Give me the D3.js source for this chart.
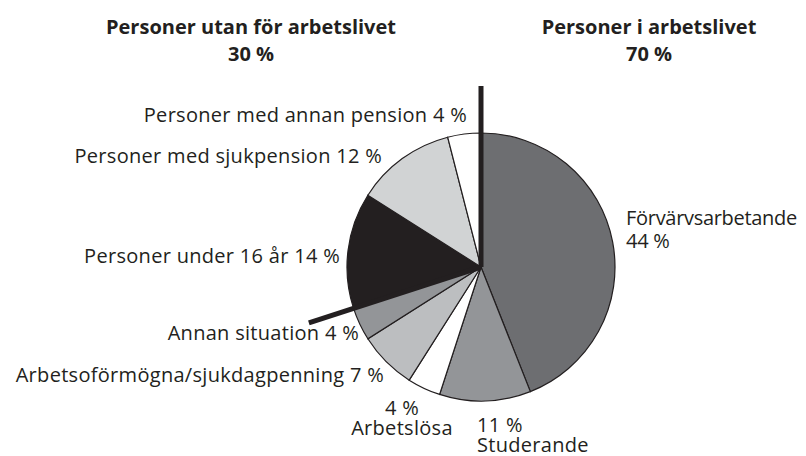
<!DOCTYPE html>
<html>
<head>
<meta charset="utf-8">
<script src="https://cdn.jsdelivr.net/npm/d3@7"></script>
<style>
  body { margin: 0; background: #fff; }
  svg { display: block; }
</style>
</head>
<body>
<figure id="pie" style="margin:0"></figure>
<script>
// Data
const categories = [
  "Förvärvsarbetande", "Studerande", "Arbetslösa", "Arbetsoförmögna/sjukdagpenning",
  "Annan situation", "Personer under 16 år", "Personer med sjukpension", "Personer med annan pension"
];
const values = [44, 11, 4, 7, 4, 14, 12, 4];
const sliceColors = ["#6d6e71", "#939598", "#ffffff", "#bcbec0", "#939598", "#231f20", "#d1d3d4", "#ffffff"];
const groupTitles = ["Personer utan för arbetslivet", "Personer i arbetslivet"];
const groupValues = [30, 70];

const width = 806;
const height = 456;
const cx = 481;
const cy = 267;
const radius = 134;

const svg = d3.select("figure#pie")
  .append("svg")
  .attr("width", width)
  .attr("height", height);

const g = svg.append("g")
  .attr("transform", "translate(" + cx + "," + cy + ")");

const pie = d3.pie().value(d => d).sort(null);
const arcs = pie(values);

g.selectAll("path.slice")
  .data(arcs)
  .enter()
  .append("path")
  .attr("class", "slice")
  .attr("d", d3.arc().innerRadius(0).outerRadius(radius))
  .attr("fill", (d, i) => sliceColors[i])
  .attr("stroke", "#231f20")
  .attr("stroke-width", 1.2);

// thick dividers between the two groups (start angle and end of working group)
const splitAngles = [0, arcs[4].endAngle];
const lineLen = 181;
g.selectAll("line.split")
  .data(splitAngles)
  .enter()
  .append("line")
  .attr("x1", 0).attr("y1", 0)
  .attr("x2", a => Math.sin(a) * lineLen)
  .attr("y2", a => -Math.cos(a) * lineLen)
  .attr("stroke", "#231f20")
  .attr("stroke-width", 5);

// Group titles
const titleX = [-230, 168];
groupTitles.forEach((t, i) => {
  const tx = svg.append("text")
    .attr("x", cx + titleX[i])
    .attr("y", 34)
    .attr("text-anchor", "middle")
    .style("font-family", "'Open Sans'")
    .style("font-weight", "bold")
    .style("font-size", "20px")
    .attr("fill", "#231f20");
  tx.append("tspan").attr("x", cx + titleX[i]).text(t);
  tx.append("tspan").attr("x", cx + titleX[i]).attr("dy", 27).text(groupValues[i] + " %");
});

// Slice labels: [dx, dy, anchor, lineGap (0 = one line), percentFirst, letterSpacing]
const labelLayout = [
  [145, -42, "start", 23, false, -0.3],
  [-4, 165, "start", 20, true, 0.3],
  [-79, 148, "middle", 20, true, 0.3],
  [-97, 115, "end", 0, false, 0.3],
  [-122, 73, "end", 0, false, 0.3],
  [-141, -4, "end", 0, false, 0.3],
  [-99, -104, "end", 0, false, 0.3],
  [-14, -145, "end", 0, false, 0.3]
];

const labels = svg.append("g")
  .style("font-family", "'Open Sans'")
  .style("font-size", "20px")
  .attr("fill", "#231f20");

categories.forEach((c, i) => {
  const [dx, dy, anchor, gap, pctFirst, ls] = labelLayout[i];
  const t = labels.append("text")
    .attr("x", cx + dx)
    .attr("y", cy + dy)
    .attr("text-anchor", anchor)
    .style("letter-spacing", ls + "px");
  const pct = values[i] + " %";
  if (!gap) {
    t.text(c + " " + pct);
  } else {
    const lines = pctFirst ? [pct, c] : [c, pct];
    lines.forEach((l, k) => {
      t.append("tspan").attr("x", cx + dx).attr("dy", k === 0 ? 0 : gap).text(l);
    });
  }
});
</script>
</body>
</html>
